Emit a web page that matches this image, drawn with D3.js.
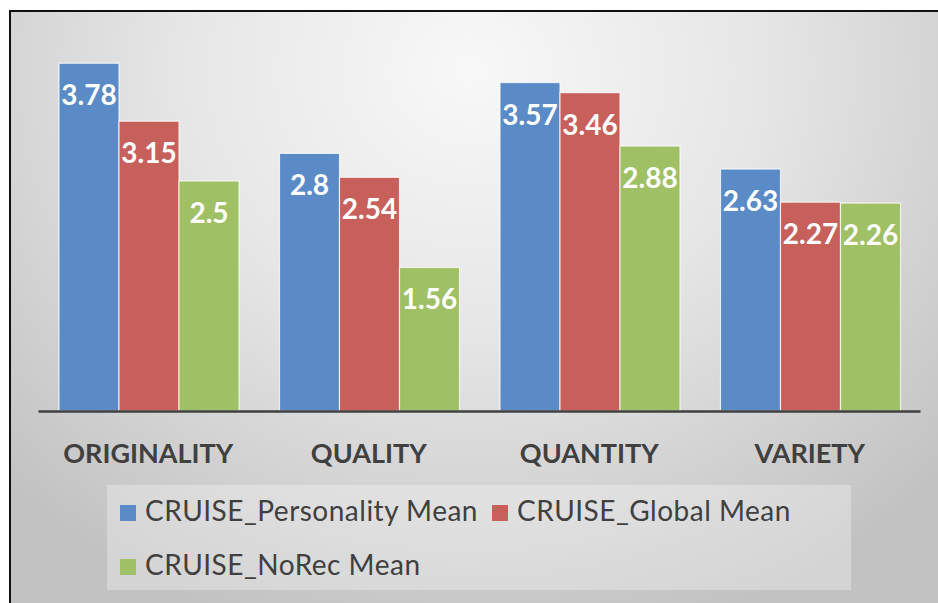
<!DOCTYPE html>
<html>
<head>
<meta charset="utf-8">
<script src="https://cdn.jsdelivr.net/npm/d3@7"></script>
<style>
  html, body { margin: 0; padding: 0; background: #ffffff; }
  svg { display: block; }
</style>
</head>
<body>
<svg id="chart" width="938" height="603"></svg>
<script>
// Idea scores by metric, one series per recommender condition
const categories = ["ORIGINALITY", "QUALITY", "QUANTITY", "VARIETY"];
const seriesNames = ["CRUISE_Personality Mean", "CRUISE_Global Mean", "CRUISE_NoRec Mean"];
const personality = [3.78, 2.8, 3.57, 2.63];
const global = [3.15, 2.54, 3.46, 2.27];
const noRec = [2.5, 1.56, 2.88, 2.26];
const seriesColors = ["#5b8bc7", "#c75f5b", "#9fc064"];

const seriesValues = [personality, global, noRec];
const rows = categories.map((c, i) => ({
  category: c,
  values: seriesNames.map((s, j) => ({ series: s, idx: j, value: seriesValues[j][i] }))
}));

const svg = d3.select("#chart");
const W = 938, H = 603;
const font = "Lato, 'Open Sans', 'DejaVu Sans', sans-serif";

// Background panel with soft radial shading
const defs = svg.append("defs");
const grad = defs.append("radialGradient")
  .attr("id", "bg")
  .attr("gradientUnits", "userSpaceOnUse")
  .attr("cx", 470).attr("cy", 70).attr("r", 620)
  .attr("gradientTransform", "translate(470,70) scale(1.05,0.95) translate(-470,-70)");
grad.append("stop").attr("offset", "0").attr("stop-color", "#f8f8f8");
grad.append("stop").attr("offset", "0.45").attr("stop-color", "#e6e6e6");
grad.append("stop").attr("offset", "1").attr("stop-color", "#c2c2c2");

svg.append("rect").attr("x", 0).attr("y", 0).attr("width", W).attr("height", H).attr("fill", "#ffffff");
svg.append("rect")
  .attr("x", 10).attr("y", 11)
  .attr("width", W + 20).attr("height", H + 20)
  .attr("fill", "url(#bg)")
  .attr("stroke", "#111111").attr("stroke-width", 2);

// Scales
const x0 = d3.scaleBand().domain(categories).range([38, 920]).padding(0);
const x1 = d3.scaleBand().domain(seriesNames).range([21, 201]).padding(0);
const y = d3.scaleLinear().domain([0, 4]).range([411, 43]);

// Bars
const groups = svg.append("g").selectAll("g")
  .data(rows).join("g")
  .attr("transform", d => `translate(${x0(d.category)},0)`);

groups.selectAll("rect")
  .data(d => d.values).join("rect")
  .attr("x", d => x1(d.series))
  .attr("y", d => y(d.value))
  .attr("width", x1.bandwidth())
  .attr("height", d => y(0) - y(d.value))
  .attr("fill", d => seriesColors[d.idx])
  .attr("stroke", "#ffffff").attr("stroke-opacity", 0.75).attr("stroke-width", 1.2);

// Value labels, inside the top of each bar
groups.selectAll("text")
  .data(d => d.values).join("text")
  .attr("x", d => x1(d.series) + x1.bandwidth() / 2)
  .attr("y", d => y(d.value) + 42)
  .attr("text-anchor", "middle")
  .attr("font-family", font)
  .attr("font-weight", "bold")
  .attr("font-size", 28)
  .attr("fill", "#ffffff")
  .text(d => d.value);

// Category axis
const axis = d3.axisBottom(x0).tickSize(0).tickPadding(0);
const axisG = svg.append("g").attr("transform", `translate(0,${y(0)})`).call(axis);
axisG.select(".domain").attr("stroke", "#404040").attr("stroke-width", 2.5);
axisG.selectAll("text")
  .attr("y", 52)
  .attr("dy", 0)
  .attr("font-family", font)
  .attr("font-weight", "bold")
  .attr("font-size", 27)
  .attr("fill", "#404040");

// Legend
const legend = svg.append("g");
legend.append("rect")
  .attr("x", 107).attr("y", 485).attr("width", 744).attr("height", 105)
  .attr("fill", "#ffffff").attr("fill-opacity", 0.3);

const legendPos = [
  { x: 120, y: 521, tx: 145 },
  { x: 492, y: 521, tx: 517 },
  { x: 120, y: 575, tx: 145 }
];
seriesNames.forEach((s, i) => {
  const p = legendPos[i];
  legend.append("rect")
    .attr("x", p.x).attr("y", p.y - 16).attr("width", 16).attr("height", 16)
    .attr("fill", seriesColors[i]);
  legend.append("text")
    .attr("x", p.tx).attr("y", p.y)
    .attr("font-family", font)
    .attr("font-size", 28)
    .attr("letter-spacing", 0.5)
    .attr("fill", "#404040")
    .text(s);
});
</script>
</body>
</html>
